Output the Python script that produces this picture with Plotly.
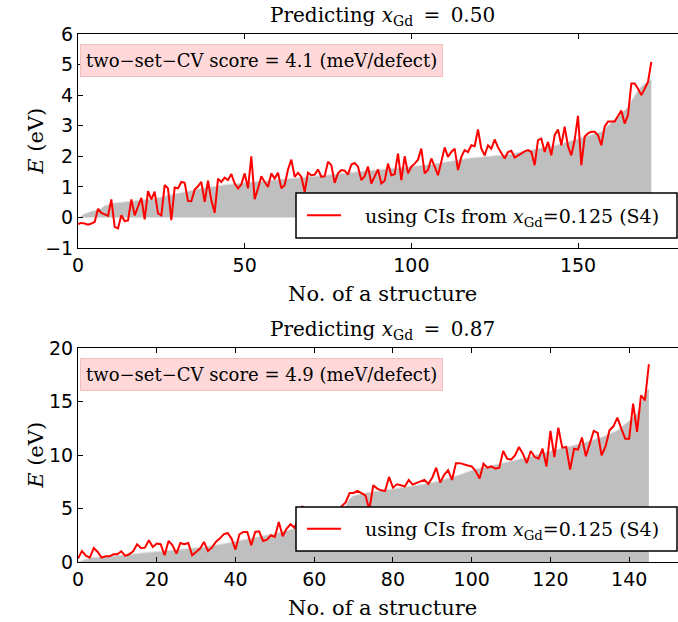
import plotly.graph_objects as go

# ---------------- data: top panel (x_Gd = 0.50) ----------------
ref_050 = [-0.05, 0.05, 0.12, 0.15, 0.2, 0.22, 0.25, 0.3, 0.38, 0.42,
           0.45, 0.47, 0.48, 0.5, 0.5, 0.51, 0.52, 0.53, 0.54, 0.55,
           0.56, 0.58, 0.6, 0.62, 0.65, 0.68, 0.7, 0.72, 0.74, 0.76,
           0.78, 0.8, 0.83, 0.86, 0.88, 0.9, 0.93, 0.95, 0.97, 0.99,
           1.0, 1.02, 1.04, 1.05, 1.07, 1.08, 1.09, 1.1, 1.11, 1.12,
           1.13, 1.14, 1.15, 1.16, 1.17, 1.18, 1.19, 1.2, 1.21, 1.22,
           1.23, 1.24, 1.25, 1.26, 1.27, 1.28, 1.29, 1.3, 1.31, 1.33,
           1.34, 1.35, 1.36, 1.37, 1.38, 1.39, 1.4, 1.41, 1.42, 1.44,
           1.45, 1.46, 1.47, 1.48, 1.49, 1.5, 1.51, 1.52, 1.53, 1.54,
           1.55, 1.56, 1.57, 1.58, 1.59, 1.6, 1.61, 1.62, 1.63, 1.64,
           1.65, 1.66, 1.67, 1.68, 1.7, 1.71, 1.73, 1.75, 1.77, 1.79,
           1.81, 1.83, 1.85, 1.87, 1.89, 1.9, 1.91, 1.93, 1.94, 1.95,
           1.96, 1.97, 1.98, 1.99, 2.0, 2.01, 2.02, 2.03, 2.04, 2.05,
           2.07, 2.1, 2.12, 2.14, 2.16, 2.18, 2.2, 2.22, 2.24, 2.26,
           2.28, 2.3, 2.32, 2.34, 2.36, 2.4, 2.44, 2.47, 2.5, 2.53,
           2.56, 2.6, 2.63, 2.66, 2.7, 2.74, 2.77, 2.8, 2.9, 3.0,
           3.1, 3.18, 3.28, 3.4, 3.5, 3.6, 3.8, 4.0, 4.16, 4.28,
           4.38, 4.45, 4.52]
pred_050 = [-0.22, -0.18, -0.2, -0.24, -0.2, -0.15, 0.28, 0.15, 0.1, 0.05,
            0.59, -0.31, -0.36, 0.07, -0.12, -0.1, 0.59, 0.07, 0.35, 0.64,
            -0.06, 0.86, 0.59, 0.84, 0.13, 0.07, 1.06, 0.95, -0.09, 0.98,
            0.95, 1.16, 1.13, 0.54, 0.53, 0.91, 1.02, 1.16, 0.51, 1.2,
            0.56, 0.15, 1.27, 1.16, 1.3, 1.22, 1.42, 1.11, 0.95, 1.08,
            1.44, 0.95, 2.0, 0.6, 0.95, 1.35, 1.16, 1.0, 1.44, 1.27,
            1.46, 0.95, 1.06, 1.57, 1.89, 1.33, 1.46, 1.33, 0.84, 1.46,
            1.38, 1.4, 1.57, 1.33, 1.35, 1.82, 1.71, 1.13, 1.44, 1.55,
            1.53, 1.4, 1.73, 1.78, 1.66, 1.22, 1.35, 1.66, 1.11, 1.33,
            1.57, 1.11, 1.2, 1.76, 1.38, 1.41, 2.09, 1.22, 2.0, 1.44,
            1.66, 1.76, 1.89, 2.25, 1.44, 1.55, 1.93, 1.66, 1.38, 1.82,
            2.29, 1.98, 2.14, 2.25, 1.55, 1.98, 2.2, 2.14, 2.36, 2.33,
            2.88, 2.25, 2.03, 2.36, 2.25, 2.55, 2.29, 2.11, 1.93, 2.14,
            2.18, 1.96, 2.03, 2.09, 2.16, 2.2, 2.14, 1.71, 2.53, 2.58,
            2.14, 2.47, 2.03, 2.69, 2.88, 2.36, 2.97, 2.33, 2.03, 2.53,
            3.32, 1.71, 2.64, 2.75, 2.8, 2.8, 2.69, 2.36, 2.97, 3.14,
            3.14, 3.14, 3.32, 3.5, 3.07, 3.35, 4.38, 4.38, 4.21, 4.0,
            4.21, 4.43, 5.09]

# ---------------- data: bottom panel (x_Gd = 0.87) ----------------
ref_087 = [0.0, 0.15, 0.3, 0.38, 0.42, 0.46, 0.5, 0.52, 0.55, 0.58,
           0.6, 0.63, 0.66, 0.7, 0.74, 0.78, 0.82, 0.86, 0.9, 0.94,
           0.97, 1.0, 1.03, 1.06, 1.09, 1.12, 1.16, 1.2, 1.24, 1.28,
           1.32, 1.36, 1.4, 1.45, 1.5, 1.56, 1.62, 1.7, 1.78, 1.86,
           1.94, 2.02, 2.1, 2.18, 2.26, 2.33, 2.4, 2.46, 2.52, 2.58,
           2.64, 2.72, 2.82, 2.92, 3.02, 3.12, 3.22, 3.32, 3.42, 3.52,
           3.62, 3.72, 3.82, 3.92, 4.02, 4.12, 4.3, 4.7, 5.3, 5.9,
           6.2, 6.3, 6.38, 6.45, 6.5, 6.55, 6.6, 6.65, 6.7, 6.75,
           6.8, 6.86, 6.92, 6.98, 7.04, 7.1, 7.16, 7.22, 7.28, 7.34,
           7.4, 7.5, 7.6, 7.7, 7.8, 7.9, 8.0, 8.15, 8.3, 8.45,
           8.6, 8.68, 8.76, 8.84, 8.92, 9.0, 9.06, 9.12, 9.2, 9.3,
           9.4, 9.5, 9.6, 9.7, 9.8, 9.9, 10.0, 10.1, 10.2, 10.3,
           10.4, 10.48, 10.56, 10.64, 10.72, 10.8, 10.9, 11.0, 11.1, 11.2,
           11.3, 11.4, 11.5, 11.65, 11.8, 11.95, 12.1, 12.3, 12.6, 12.9,
           13.2, 13.5, 13.9, 14.8, 15.8, 16.2]
pred_087 = [0.32, 1.03, 0.6, 0.41, 1.31, 0.94, 0.41, 0.53, 0.53, 0.72,
            0.72, 1.0, 0.57, 0.72, 1.0, 1.66, 1.31, 1.34, 2.03, 1.41,
            1.72, 1.66, 0.63, 1.97, 1.56, 0.78, 1.78, 1.66, 1.78, 0.63,
            0.94, 1.25, 1.88, 1.03, 1.34, 1.88, 2.19, 2.59, 2.72, 2.19,
            1.16, 2.59, 2.81, 2.81, 1.56, 2.81, 2.87, 1.97, 2.09, 2.5,
            2.34, 3.74, 2.41, 3.12, 3.53, 3.2, 4.1, 5.24, 3.8, 4.2,
            3.5, 4.4, 3.9, 4.6, 4.1, 4.5, 4.8, 5.3, 5.6, 6.45,
            6.45, 6.64, 6.45, 6.23, 4.9, 7.17, 6.86, 6.7, 6.64, 7.95,
            6.95, 7.26, 7.17, 7.05, 7.67, 7.23, 7.39, 7.55, 7.67, 7.3,
            7.9, 8.82, 7.42, 8.14, 8.58, 7.67, 9.24, 9.24, 9.1, 9.02,
            8.93, 8.5, 7.8, 9.18, 8.82, 8.93, 8.72, 8.82, 10.37, 9.66,
            9.56, 9.97, 10.75, 10.12, 9.25, 10.37, 9.81, 9.66, 10.59, 8.93,
            12.25, 9.81, 12.56, 10.69, 10.75, 8.64, 10.59, 10.5, 11.63, 9.88,
            11.06, 12.25, 12.06, 9.97, 10.81, 12.31, 12.68, 13.49, 12.46, 11.53,
            11.53, 14.8, 12.15, 15.58, 15.11, 18.48]

titles = ["Predicting <i>x</i><sub>Gd</sub>\u2009 = \u20090.50",
          "Predicting <i>x</i><sub>Gd</sub>\u2009 = \u20090.87"]
scores = ["two\u2212set\u2212CV score = 4.1 (meV/defect)", "two\u2212set\u2212CV score = 4.9 (meV/defect)"]
legend_label = "\u2003using CIs from <i>x</i><sub>Gd</sub>=0.125 (S4)"
xlabel = "No. of a structure"
ylabel = "<i>E</i> (eV)"

SERIF = "DejaVu Serif"
SANS = "DejaVu Sans"
W, H = 678, 622
ML, MR, MT, MB = 78, 0, 34, 60
PW = W - ML - MR
PH = H - MT - MB


def py(ypx):
    return (H - MB - ypx) / PH


def px(xpx):
    return (xpx - ML) / PW


fig = go.Figure()
panels = [(ref_050, pred_050, "x", "y", "legend"), (ref_087, pred_087, "x2", "y2", "legend2")]
for ref, pred, xa, ya, lg in panels:
    idx = list(range(len(ref)))
    fig.add_trace(go.Scatter(x=idx, y=ref, xaxis=xa, yaxis=ya, mode="lines", fill="tozeroy",
                             fillcolor="#bfbfbf", line=dict(color="#dddddd", width=1),
                             showlegend=False, hoverinfo="skip"))
    fig.add_trace(go.Scatter(x=idx, y=pred, xaxis=xa, yaxis=ya, mode="lines",
                             line=dict(color="#ff0000", width=2), name=legend_label,
                             legend=lg))

axis_common = dict(showline=True, linecolor="black", linewidth=1, ticks="inside", ticklen=5,
                   tickcolor="black", showgrid=False, zeroline=False, automargin=False,
                   tickfont=dict(family=SANS, size=19, color="black"))

top_dom = [py(248), 1.0]
bot_dom = [0.0, py(348)]

leg_common = dict(xanchor="left", yanchor="middle", bgcolor="rgba(0,0,0,0)", borderwidth=0,
                  itemwidth=34, font=dict(family=SERIF, size=19, color="black"))

fig.update_layout(
    width=W, height=H, margin=dict(l=ML, r=MR, t=MT, b=MB),
    paper_bgcolor="white", plot_bgcolor="white",
    xaxis=dict(domain=[0, 1], range=[0, 180], dtick=50, tick0=0, mirror="ticks", anchor="y", **axis_common),
    yaxis=dict(domain=top_dom, range=[-1, 6], dtick=1, tick0=0, anchor="x", **axis_common),
    xaxis2=dict(domain=[0, 1], range=[0, 152.4], dtick=20, tick0=0, mirror="ticks", anchor="y2", **axis_common),
    yaxis2=dict(domain=bot_dom, range=[0, 20], dtick=5, tick0=0, anchor="x2", **axis_common),
    legend=dict(x=px(302), y=py(215.5), **leg_common),
    legend2=dict(x=px(302), y=py(529), **leg_common),
)

shapes = []
for top, bot in [(193, 238), (507, 551)]:
    shapes.append(dict(type="rect", xref="paper", yref="paper", x0=px(296), x1=px(677),
                       y0=py(bot), y1=py(top), layer="above", fillcolor="white",
                       line=dict(color="black", width=1.5)))
fig.update_layout(shapes=shapes)

ann = []
for i, (title, score) in enumerate(zip(titles, scores)):
    ax_top = 33.7 if i == 0 else 348
    ax_bot = 247.7 if i == 0 else 561.7
    ann.append(dict(text=title, x=px(382), y=py(ax_top - 3), xref="paper", yref="paper",
                    xanchor="center", yanchor="bottom", showarrow=False,
                    font=dict(family=SERIF, size=20, color="black")))
    ann.append(dict(text=score, x=px(80), y=py(ax_top + 27), xref="paper", yref="paper",
                    xanchor="left", yanchor="middle", showarrow=False,
                    bgcolor="rgb(255,217,217)", bordercolor="rgb(240,190,190)", borderwidth=1,
                    borderpad=5, font=dict(family=SERIF, size=18, color="black")))
    ann.append(dict(text=xlabel, x=px(382), y=py(ax_bot + 46), xref="paper", yref="paper",
                    xanchor="center", yanchor="middle", showarrow=False,
                    font=dict(family=SERIF, size=21, color="black")))
    ann.append(dict(text=ylabel, x=px(36), y=py((ax_top + ax_bot) / 2),
                    xref="paper", yref="paper", xanchor="center", yanchor="middle",
                    textangle=-90, showarrow=False,
                    font=dict(family=SERIF, size=21, color="black")))
fig.update_layout(annotations=ann)

fig.write_html("out.html", config={"displayModeBar": False},
               post_script="document.body.style.margin='0';document.body.style.overflow='hidden';")
